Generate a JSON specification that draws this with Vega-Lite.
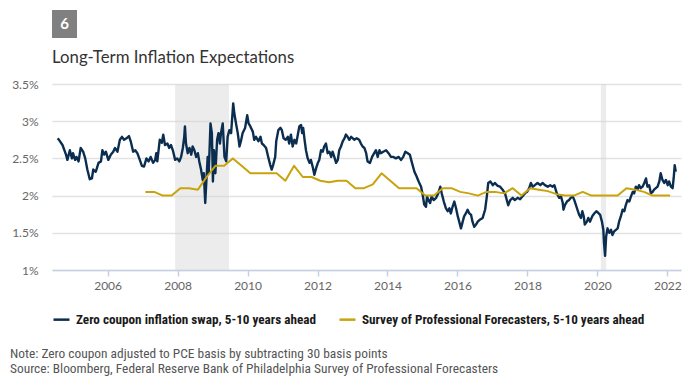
{
  "$schema": "https://vega.github.io/schema/vega-lite/v6.json",
  "background": "white",
  "padding": {"left": 10, "top": 10, "right": 0, "bottom": 0},
  "spacing": 11,
  "resolve": {"scale": {"color": "independent"}, "legend": {"color": "independent"}},
  "config": {
    "font": "Lato",
    "view": {"stroke": null}
  },
  "datasets": {
    "badge": [{"n": "6"}],
    "rec": [{"start": 2007.93, "end": 2009.47}, {"start": 2020.1, "end": 2020.25}],
    "zc": [
      {"year":2004.57,"rate":2.77},{"year":2004.61,"rate":2.75},{"year":2004.71,"rate":2.68},{"year":2004.81,"rate":2.55},{"year":2004.85,"rate":2.48},{"year":2004.92,"rate":2.61},{"year":2004.98,"rate":2.50},{"year":2005.01,"rate":2.57},{"year":2005.07,"rate":2.48},{"year":2005.11,"rate":2.52},{"year":2005.17,"rate":2.46},{"year":2005.23,"rate":2.64},{"year":2005.30,"rate":2.59},{"year":2005.36,"rate":2.50},{"year":2005.42,"rate":2.35},{"year":2005.49,"rate":2.22},{"year":2005.55,"rate":2.23},{"year":2005.59,"rate":2.35},{"year":2005.66,"rate":2.32},{"year":2005.74,"rate":2.44},{"year":2005.81,"rate":2.46},{"year":2005.85,"rate":2.61},{"year":2005.90,"rate":2.55},{"year":2005.95,"rate":2.59},
      {"year":2006.02,"rate":2.48},{"year":2006.09,"rate":2.55},{"year":2006.16,"rate":2.59},{"year":2006.21,"rate":2.64},{"year":2006.28,"rate":2.59},{"year":2006.35,"rate":2.75},{"year":2006.41,"rate":2.79},{"year":2006.47,"rate":2.75},{"year":2006.54,"rate":2.77},{"year":2006.61,"rate":2.80},{"year":2006.66,"rate":2.73},{"year":2006.73,"rate":2.59},{"year":2006.79,"rate":2.61},{"year":2006.85,"rate":2.57},{"year":2006.92,"rate":2.48},{"year":2006.98,"rate":2.40},
      {"year":2007.04,"rate":2.39},{"year":2007.11,"rate":2.50},{"year":2007.17,"rate":2.46},{"year":2007.23,"rate":2.52},{"year":2007.30,"rate":2.44},{"year":2007.36,"rate":2.48},{"year":2007.39,"rate":2.57},{"year":2007.42,"rate":2.46},{"year":2007.49,"rate":2.75},{"year":2007.55,"rate":2.71},{"year":2007.59,"rate":2.82},{"year":2007.64,"rate":2.68},{"year":2007.71,"rate":2.70},{"year":2007.76,"rate":2.64},{"year":2007.81,"rate":2.68},{"year":2007.87,"rate":2.60},{"year":2007.93,"rate":2.48},{"year":2007.99,"rate":2.50},
      {"year":2008.05,"rate":2.46},{"year":2008.10,"rate":2.52},{"year":2008.15,"rate":2.64},{"year":2008.19,"rate":2.79},{"year":2008.21,"rate":2.93},{"year":2008.24,"rate":2.70},{"year":2008.29,"rate":2.57},{"year":2008.34,"rate":2.64},{"year":2008.39,"rate":2.55},{"year":2008.43,"rate":2.66},{"year":2008.48,"rate":2.61},{"year":2008.53,"rate":2.52},{"year":2008.58,"rate":2.57},{"year":2008.62,"rate":2.46},{"year":2008.67,"rate":2.35},{"year":2008.72,"rate":2.21},{"year":2008.75,"rate":2.30},{"year":2008.79,"rate":1.90},{"year":2008.82,"rate":2.17},{"year":2008.86,"rate":2.52},{"year":2008.89,"rate":2.30},{"year":2008.94,"rate":2.97},{"year":2008.98,"rate":2.84},
      {"year":2009.01,"rate":2.19},{"year":2009.04,"rate":2.61},{"year":2009.08,"rate":2.30},{"year":2009.13,"rate":2.75},{"year":2009.17,"rate":2.84},{"year":2009.21,"rate":2.70},{"year":2009.24,"rate":2.84},{"year":2009.29,"rate":2.97},{"year":2009.34,"rate":2.52},{"year":2009.39,"rate":2.46},{"year":2009.43,"rate":2.79},{"year":2009.48,"rate":2.88},{"year":2009.53,"rate":2.84},{"year":2009.59,"rate":3.24},{"year":2009.62,"rate":3.11},{"year":2009.67,"rate":2.97},{"year":2009.72,"rate":2.84},{"year":2009.77,"rate":2.66},{"year":2009.81,"rate":2.73},{"year":2009.86,"rate":2.84},{"year":2009.93,"rate":2.91},{"year":2009.99,"rate":3.08},
      {"year":2010.03,"rate":2.97},{"year":2010.08,"rate":2.93},{"year":2010.15,"rate":2.86},{"year":2010.19,"rate":2.75},{"year":2010.24,"rate":2.79},{"year":2010.31,"rate":2.73},{"year":2010.37,"rate":2.79},{"year":2010.41,"rate":2.70},{"year":2010.46,"rate":2.68},{"year":2010.53,"rate":2.64},{"year":2010.59,"rate":2.52},{"year":2010.65,"rate":2.41},{"year":2010.69,"rate":2.35},{"year":2010.73,"rate":2.41},{"year":2010.79,"rate":2.52},{"year":2010.82,"rate":2.73},{"year":2010.88,"rate":2.88},{"year":2010.94,"rate":2.91},{"year":2010.98,"rate":2.88},
      {"year":2011.03,"rate":2.77},{"year":2011.09,"rate":2.75},{"year":2011.15,"rate":2.79},{"year":2011.19,"rate":2.70},{"year":2011.24,"rate":2.82},{"year":2011.29,"rate":2.66},{"year":2011.34,"rate":2.75},{"year":2011.39,"rate":2.70},{"year":2011.43,"rate":2.80},{"year":2011.48,"rate":2.93},{"year":2011.53,"rate":2.95},{"year":2011.56,"rate":2.84},{"year":2011.59,"rate":2.91},{"year":2011.63,"rate":2.75},{"year":2011.67,"rate":2.61},{"year":2011.72,"rate":2.50},{"year":2011.77,"rate":2.44},{"year":2011.81,"rate":2.48},{"year":2011.86,"rate":2.39},{"year":2011.91,"rate":2.28},{"year":2011.96,"rate":2.37},
      {"year":2012.01,"rate":2.44},{"year":2012.05,"rate":2.48},{"year":2012.10,"rate":2.61},{"year":2012.15,"rate":2.59},{"year":2012.19,"rate":2.66},{"year":2012.24,"rate":2.70},{"year":2012.29,"rate":2.57},{"year":2012.34,"rate":2.59},{"year":2012.39,"rate":2.52},{"year":2012.43,"rate":2.59},{"year":2012.48,"rate":2.52},{"year":2012.53,"rate":2.44},{"year":2012.58,"rate":2.48},{"year":2012.62,"rate":2.61},{"year":2012.67,"rate":2.66},{"year":2012.72,"rate":2.73},{"year":2012.77,"rate":2.77},{"year":2012.81,"rate":2.82},{"year":2012.86,"rate":2.79},{"year":2012.91,"rate":2.75},{"year":2012.96,"rate":2.79},
      {"year":2013.01,"rate":2.77},{"year":2013.05,"rate":2.75},{"year":2013.12,"rate":2.77},{"year":2013.19,"rate":2.75},{"year":2013.24,"rate":2.70},{"year":2013.29,"rate":2.66},{"year":2013.34,"rate":2.64},{"year":2013.39,"rate":2.57},{"year":2013.43,"rate":2.46},{"year":2013.50,"rate":2.44},{"year":2013.56,"rate":2.52},{"year":2013.62,"rate":2.57},{"year":2013.67,"rate":2.61},{"year":2013.72,"rate":2.52},{"year":2013.77,"rate":2.61},{"year":2013.81,"rate":2.57},{"year":2013.88,"rate":2.59},{"year":2013.96,"rate":2.61},
      {"year":2014.03,"rate":2.57},{"year":2014.10,"rate":2.52},{"year":2014.17,"rate":2.52},{"year":2014.24,"rate":2.50},{"year":2014.32,"rate":2.52},{"year":2014.39,"rate":2.48},{"year":2014.45,"rate":2.52},{"year":2014.51,"rate":2.59},{"year":2014.58,"rate":2.57},{"year":2014.64,"rate":2.55},{"year":2014.70,"rate":2.44},{"year":2014.77,"rate":2.32},{"year":2014.83,"rate":2.26},{"year":2014.89,"rate":2.19},{"year":2014.96,"rate":2.12},
      {"year":2015.01,"rate":2.00},{"year":2015.05,"rate":1.88},{"year":2015.10,"rate":1.85},{"year":2015.13,"rate":1.99},{"year":2015.17,"rate":1.94},{"year":2015.22,"rate":1.90},{"year":2015.26,"rate":1.99},{"year":2015.32,"rate":1.94},{"year":2015.39,"rate":1.97},{"year":2015.45,"rate":2.03},{"year":2015.51,"rate":2.12},{"year":2015.55,"rate":2.03},{"year":2015.61,"rate":1.92},{"year":2015.67,"rate":1.83},{"year":2015.72,"rate":1.79},{"year":2015.77,"rate":1.83},{"year":2015.81,"rate":1.76},{"year":2015.86,"rate":1.85},{"year":2015.91,"rate":1.92},{"year":2015.96,"rate":1.83},
      {"year":2016.01,"rate":1.72},{"year":2016.05,"rate":1.65},{"year":2016.10,"rate":1.56},{"year":2016.15,"rate":1.65},{"year":2016.19,"rate":1.72},{"year":2016.24,"rate":1.76},{"year":2016.29,"rate":1.81},{"year":2016.34,"rate":1.76},{"year":2016.39,"rate":1.74},{"year":2016.43,"rate":1.65},{"year":2016.48,"rate":1.58},{"year":2016.53,"rate":1.61},{"year":2016.58,"rate":1.65},{"year":2016.65,"rate":1.68},{"year":2016.72,"rate":1.70},{"year":2016.79,"rate":1.81},{"year":2016.84,"rate":1.99},{"year":2016.88,"rate":2.17},{"year":2016.94,"rate":2.19},
      {"year":2017.01,"rate":2.14},{"year":2017.07,"rate":2.17},{"year":2017.15,"rate":2.13},{"year":2017.22,"rate":2.12},{"year":2017.29,"rate":2.08},{"year":2017.36,"rate":2.03},{"year":2017.41,"rate":1.94},{"year":2017.45,"rate":1.87},{"year":2017.51,"rate":1.94},{"year":2017.58,"rate":1.97},{"year":2017.64,"rate":1.94},{"year":2017.72,"rate":1.97},{"year":2017.79,"rate":1.95},{"year":2017.86,"rate":1.99},{"year":2017.93,"rate":2.03},{"year":2017.99,"rate":2.05},
      {"year":2018.05,"rate":2.10},{"year":2018.10,"rate":2.17},{"year":2018.15,"rate":2.12},{"year":2018.21,"rate":2.14},{"year":2018.29,"rate":2.17},{"year":2018.37,"rate":2.14},{"year":2018.43,"rate":2.17},{"year":2018.50,"rate":2.14},{"year":2018.58,"rate":2.12},{"year":2018.65,"rate":2.14},{"year":2018.72,"rate":2.12},{"year":2018.77,"rate":2.14},{"year":2018.84,"rate":2.03},{"year":2018.91,"rate":1.97},{"year":2018.96,"rate":1.99},
      {"year":2019.01,"rate":1.90},{"year":2019.03,"rate":1.81},{"year":2019.07,"rate":1.87},{"year":2019.13,"rate":1.92},{"year":2019.19,"rate":1.94},{"year":2019.24,"rate":1.97},{"year":2019.29,"rate":1.99},{"year":2019.34,"rate":1.94},{"year":2019.39,"rate":1.87},{"year":2019.43,"rate":1.81},{"year":2019.48,"rate":1.74},{"year":2019.53,"rate":1.70},{"year":2019.57,"rate":1.79},{"year":2019.61,"rate":1.72},{"year":2019.64,"rate":1.61},{"year":2019.70,"rate":1.65},{"year":2019.74,"rate":1.70},{"year":2019.79,"rate":1.65},{"year":2019.85,"rate":1.72},{"year":2019.91,"rate":1.76},{"year":2019.97,"rate":1.79},
      {"year":2020.02,"rate":1.77},{"year":2020.08,"rate":1.74},{"year":2020.13,"rate":1.65},{"year":2020.17,"rate":1.54},{"year":2020.19,"rate":1.36},{"year":2020.22,"rate":1.19},{"year":2020.25,"rate":1.45},{"year":2020.29,"rate":1.56},{"year":2020.34,"rate":1.50},{"year":2020.39,"rate":1.54},{"year":2020.43,"rate":1.47},{"year":2020.48,"rate":1.52},{"year":2020.53,"rate":1.54},{"year":2020.58,"rate":1.56},{"year":2020.62,"rate":1.65},{"year":2020.67,"rate":1.72},{"year":2020.72,"rate":1.81},{"year":2020.77,"rate":1.79},{"year":2020.81,"rate":1.87},{"year":2020.86,"rate":1.94},{"year":2020.91,"rate":1.92},{"year":2020.96,"rate":1.99},
      {"year":2021.01,"rate":2.05},{"year":2021.05,"rate":2.03},{"year":2021.10,"rate":2.12},{"year":2021.15,"rate":2.08},{"year":2021.19,"rate":2.14},{"year":2021.24,"rate":2.10},{"year":2021.29,"rate":2.12},{"year":2021.34,"rate":2.17},{"year":2021.39,"rate":2.23},{"year":2021.43,"rate":2.12},{"year":2021.48,"rate":2.14},{"year":2021.53,"rate":2.03},{"year":2021.58,"rate":2.05},{"year":2021.62,"rate":2.08},{"year":2021.67,"rate":2.10},{"year":2021.72,"rate":2.12},{"year":2021.77,"rate":2.19},{"year":2021.81,"rate":2.30},{"year":2021.86,"rate":2.21},{"year":2021.91,"rate":2.17},{"year":2021.96,"rate":2.21},
      {"year":2022.01,"rate":2.14},{"year":2022.05,"rate":2.19},{"year":2022.10,"rate":2.12},{"year":2022.15,"rate":2.10},{"year":2022.18,"rate":2.23},{"year":2022.21,"rate":2.41},{"year":2022.24,"rate":2.32}
    ],
    "spf": [
      {"year":2007.08,"rate":2.05},{"year":2007.33,"rate":2.05},{"year":2007.58,"rate":2.00},{"year":2007.83,"rate":2.00},
      {"year":2008.08,"rate":2.10},{"year":2008.33,"rate":2.10},{"year":2008.58,"rate":2.08},{"year":2008.83,"rate":2.25},
      {"year":2009.08,"rate":2.40},{"year":2009.33,"rate":2.40},{"year":2009.58,"rate":2.50},{"year":2009.83,"rate":2.40},
      {"year":2010.08,"rate":2.30},{"year":2010.33,"rate":2.30},{"year":2010.58,"rate":2.30},{"year":2010.83,"rate":2.30},
      {"year":2011.08,"rate":2.20},{"year":2011.33,"rate":2.40},{"year":2011.58,"rate":2.25},{"year":2011.83,"rate":2.25},
      {"year":2012.08,"rate":2.20},{"year":2012.33,"rate":2.18},{"year":2012.58,"rate":2.20},{"year":2012.83,"rate":2.20},
      {"year":2013.08,"rate":2.10},{"year":2013.33,"rate":2.10},{"year":2013.58,"rate":2.15},{"year":2013.83,"rate":2.30},
      {"year":2014.08,"rate":2.20},{"year":2014.33,"rate":2.10},{"year":2014.58,"rate":2.10},{"year":2014.83,"rate":2.10},
      {"year":2015.08,"rate":2.00},{"year":2015.33,"rate":2.00},{"year":2015.58,"rate":2.10},{"year":2015.83,"rate":2.10},
      {"year":2016.08,"rate":2.05},{"year":2016.33,"rate":2.03},{"year":2016.58,"rate":2.00},{"year":2016.83,"rate":2.05},
      {"year":2017.08,"rate":2.05},{"year":2017.33,"rate":2.03},{"year":2017.58,"rate":2.10},{"year":2017.83,"rate":2.00},
      {"year":2018.08,"rate":2.10},{"year":2018.33,"rate":2.08},{"year":2018.58,"rate":2.06},{"year":2018.83,"rate":2.02},
      {"year":2019.08,"rate":2.00},{"year":2019.33,"rate":2.00},{"year":2019.58,"rate":2.05},{"year":2019.83,"rate":2.00},
      {"year":2020.08,"rate":2.00},{"year":2020.33,"rate":2.00},{"year":2020.58,"rate":2.00},{"year":2020.83,"rate":2.10},
      {"year":2021.08,"rate":2.08},{"year":2021.33,"rate":2.05},{"year":2021.58,"rate":2.00},{"year":2021.83,"rate":2.00},
      {"year":2022.08,"rate":2.00}
    ]
  },
  "vconcat": [
    {
      "width": 25,
      "height": 28,
      "data": {"name": "badge"},
      "title": {
        "text": "Long-Term Inflation Expectations",
        "orient": "bottom",
        "anchor": "start",
        "frame": "group",
        "baseline": "top",
        "offset": 12,
        "font": "Lato",
        "fontSize": 16.8,
        "fontWeight": "normal",
        "color": "#333333"
      },
      "layer": [
        {"mark": {"type": "rect", "color": "#808080"}, "encoding": {}},
        {"mark": {"type": "text", "color": "white", "fontSize": 15, "fontWeight": "bold", "font": "Lato", "align": "center", "baseline": "middle"},
         "encoding": {"text": {"field": "n"}}}
      ]
    },
    {
      "resolve": {"scale": {"color": "independent"}, "legend": {"color": "independent"}},
      "hconcat": [
        {
          "width": 629,
          "height": 186,
          "layer": [
            {
              "data": {"name": "rec"},
              "mark": {"type": "rect", "color": "#d4d4d4", "opacity": 0.45},
              "encoding": {
                "x": {"field": "start", "type": "quantitative", "scale": {"domain": [2004.41, 2022.39], "nice": false, "zero": false}},
                "x2": {"field": "end"}
              }
            },
            {
              "data": {"name": "zc"},
              "mark": {"type": "line", "strokeWidth": 2.4, "strokeJoin": "round"},
              "encoding": {
                "x": {"field": "year", "type": "quantitative",
                  "scale": {"domain": [2004.41, 2022.39], "nice": false, "zero": false},
                  "axis": {"title": null, "values": [2006, 2008, 2010, 2012, 2014, 2016, 2018, 2020, 2022], "tickCount": 10, "format": "d", "grid": false,
                    "domainColor": "#c5d0e2", "domainWidth": 1.5, "tickColor": "#c5d0e2", "tickWidth": 1.5, "tickSize": 6,
                    "labelFont": "Lato", "labelFontSize": 12, "labelColor": "#666666", "labelPadding": 4}},
                "y": {"field": "rate", "type": "quantitative",
                  "scale": {"domain": [1, 3.5], "nice": false, "zero": false},
                  "axis": {"title": null, "values": [1, 1.5, 2, 2.5, 3, 3.5], "tickCount": 6, "labelOverlap": false, "labelExpr": "datum.value + '%'",
                    "domain": false, "ticks": false, "labelPadding": 14, "gridColor": "#e2e2e2", "gridWidth": 1.5,
                    "labelFont": "Lato", "labelFontSize": 12, "labelColor": "#666666"}},
                "color": {"datum": "Zero coupon inflation swap, 5-10 years ahead", "type": "nominal",
                  "scale": {"domain": ["Zero coupon inflation swap, 5-10 years ahead", "Survey of Professional Forecasters, 5-10 years ahead"], "range": ["#0b2e50", "#c9a30c"]},
                  "legend": {"title": null, "orient": "bottom", "direction": "horizontal", "offset": 19, "symbolType": "stroke", "symbolStrokeWidth": 2.5, "symbolSize": 256,
                    "labelFont": "Roboto Condensed, Roboto", "labelFontSize": 13.2, "labelFontWeight": "bold", "labelColor": "#1a1a1a", "labelLimit": 0, "columnPadding": 18, "labelOffset": 5}}
              }
            },
            {
              "data": {"name": "spf"},
              "mark": {"type": "line", "strokeWidth": 2, "strokeJoin": "round"},
              "encoding": {
                "x": {"field": "year", "type": "quantitative"},
                "y": {"field": "rate", "type": "quantitative"},
                "color": {"datum": "Survey of Professional Forecasters, 5-10 years ahead", "type": "nominal"}
              }
            }
          ]
        }
      ]
    },
    {
      "width": 629,
      "height": 1,
      "data": {"values": []},
      "mark": {"type": "point"},
      "title": {
        "text": ["Note: Zero coupon adjusted to PCE basis by subtracting 30 basis points", "Source: Bloomberg, Federal Reserve Bank of Philadelphia Survey of Professional Forecasters"],
        "orient": "bottom",
        "anchor": "start",
        "frame": "group",
        "baseline": "top",
        "offset": 9,
        "dx": -42,
        "font": "Roboto Condensed, Roboto",
        "fontSize": 13.4,
        "fontWeight": "normal",
        "lineHeight": 15,
        "color": "#555555"
      }
    }
  ]
}
